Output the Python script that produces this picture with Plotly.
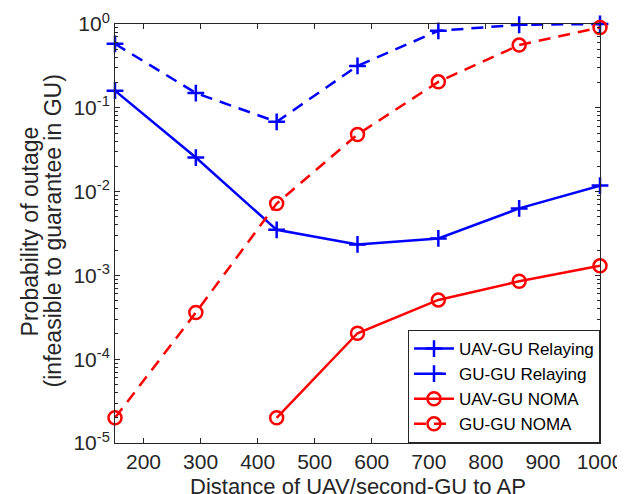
import plotly.graph_objects as go

distance = [150, 291.67, 433.33, 575, 716.67, 858.33, 1000]
uav_gu_relaying = [0.16, 0.0255, 0.0035, 0.00234, 0.00276, 0.0063, 0.0118]
gu_gu_relaying = [0.58, 0.15, 0.068, 0.316, 0.83, 0.98, 1.0]
uav_gu_noma_x = [433.33, 575, 716.67, 858.33, 1000]
uav_gu_noma = [2.0e-5, 2.04e-4, 5.1e-4, 8.5e-4, 1.3e-3]
gu_gu_noma = [2.0e-5, 3.6e-4, 0.0072, 0.048, 0.204, 0.56, 0.91]

x_ticks = [200, 300, 400, 500, 600, 700, 800, 900, 1000]
y_ticks = [1e-5, 1e-4, 1e-3, 1e-2, 1e-1, 1]
y_ticktext = ["10<sup>-5</sup>", "10<sup>-4</sup>", "10<sup>-3</sup>",
              "10<sup>-2</sup>", "10<sup>-1</sup>", "10<sup>0</sup>"]
x_title = "Distance of UAV/second-GU to AP"
y_title_lines = ["Probability of outage", "(infeasible to guarantee in GU)"]

BLUE = "#0000FF"
RED = "#FF0000"
DARK = "#262626"
DASH = "12px,8px"
LW = 2.5

fig = go.Figure()
fig.add_trace(go.Scatter(x=distance, y=uav_gu_relaying, name="UAV-GU Relaying",
                         mode="lines+markers", cliponaxis=False,
                         line=dict(color=BLUE, width=LW),
                         marker=dict(symbol="cross-thin", size=12,
                                     line=dict(color=BLUE, width=2.5))))
fig.add_trace(go.Scatter(x=distance, y=gu_gu_relaying, name="GU-GU Relaying",
                         mode="lines+markers", cliponaxis=False,
                         line=dict(color=BLUE, width=LW, dash=DASH),
                         marker=dict(symbol="cross-thin", size=12,
                                     line=dict(color=BLUE, width=2.5))))
fig.add_trace(go.Scatter(x=uav_gu_noma_x, y=uav_gu_noma, name="UAV-GU NOMA",
                         mode="lines+markers", cliponaxis=False,
                         line=dict(color=RED, width=LW),
                         marker=dict(symbol="circle-open", size=13, color=RED,
                                     line=dict(color=RED, width=2.5))))
fig.add_trace(go.Scatter(x=distance, y=gu_gu_noma, name="GU-GU NOMA",
                         mode="lines+markers", cliponaxis=False,
                         line=dict(color=RED, width=LW, dash=DASH),
                         marker=dict(symbol="circle-open", size=13, color=RED,
                                     line=dict(color=RED, width=2.5))))

minor_vals = [m * 10 ** e for e in range(-5, 0) for m in range(2, 10)]

# two-line y label placed as rotated annotations (tight Matlab-like line spacing)
for line_text, xs in zip(y_title_lines, [22, 45]):
    fig.add_annotation(text=line_text, textangle=-90, showarrow=False,
                       xref="paper", yref="paper", x=(xs - 107) / 485, y=0.505,
                       xanchor="center", yanchor="middle",
                       font=dict(size=23, color=DARK))

# x label kept inside the page, below the tick labels
fig.add_annotation(text=x_title, showarrow=False, xref="paper", yref="paper",
                   x=0.5, y=0, xanchor="center", yanchor="bottom", yshift=-58,
                   font=dict(size=22, color=DARK))

fig.update_layout(
    width=625, height=494,
    margin=dict(l=107, r=33, t=16, b=59),
    paper_bgcolor="white", plot_bgcolor="white",
    font=dict(family="Liberation Sans, Arial, sans-serif", color=DARK, size=21),
    showlegend=True,
    legend=dict(x=1, y=0, xanchor="right", yanchor="bottom",
                bgcolor="white", bordercolor=DARK, borderwidth=1,
                font=dict(size=17, color="black"), tracegroupgap=0,
                itemwidth=40),
    xaxis=dict(range=[150, 1000], tickvals=x_ticks, ticks="inside", ticklen=5,
               showline=True, linecolor=DARK, linewidth=1, mirror="ticks",
               showgrid=False, zeroline=False, tickcolor=DARK,
               tickfont=dict(size=21), automargin=False),
    yaxis=dict(type="log", range=[-5, 0], tickvals=y_ticks, ticktext=y_ticktext,
               ticks="inside", ticklen=5, showline=True, linecolor=DARK,
               linewidth=1, mirror="ticks", showgrid=False, zeroline=False,
               tickcolor=DARK, tickfont=dict(size=21), automargin=False,
               minor=dict(tickvals=minor_vals, ticks="inside", ticklen=3,
                          tickcolor=DARK, showgrid=False)),
)

fig.write_html("out.html")
